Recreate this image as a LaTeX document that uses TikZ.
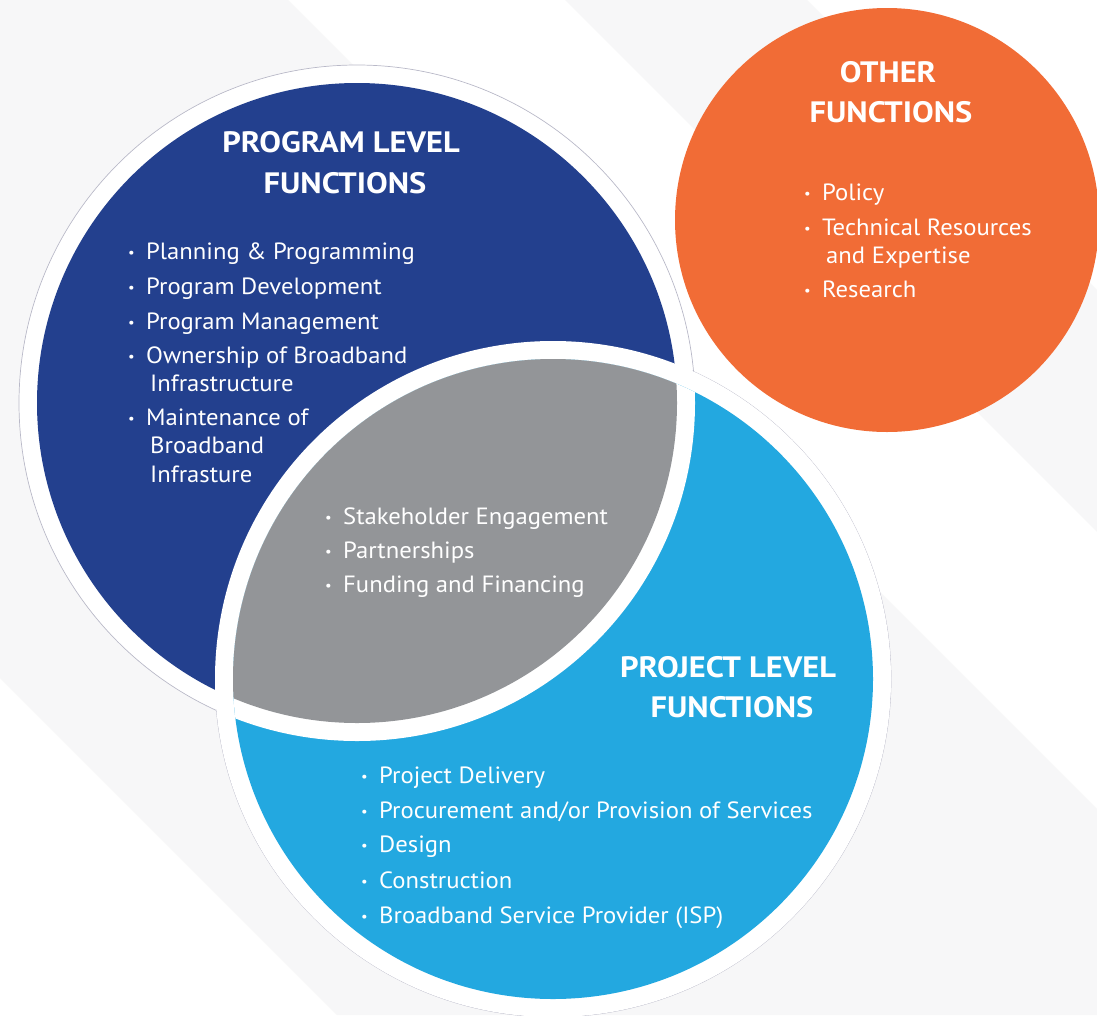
\documentclass[tikz,border=0pt]{standalone}
\usepackage{fontspec}
\setmainfont{PT Sans}[FakeStretch=1.05]
\newfontfamily\ttlfont{PT Sans}[FakeStretch=1.1]
\definecolor{bgray}{RGB}{247,247,248}
\definecolor{progblue}{RGB}{35,64,142}
\definecolor{projblue}{RGB}{35,168,224}
\definecolor{lensgray}{RGB}{147,149,152}
\definecolor{othorange}{RGB}{241,108,54}
\definecolor{rimline}{RGB}{185,185,200}
\newcommand\bul{\makebox[18pt][l]{\fontsize{14}{14}\selectfont\raisebox{1.6pt}{\textbullet}}}
\begin{document}
\begin{tikzpicture}[x=1pt,y=-1pt,
  item/.style={anchor=base west, inner sep=0pt, text=white, font=\fontsize{23.5}{23.5}\selectfont},
  ttl/.style={anchor=base, inner sep=0pt, text=white, font=\ttlfont\bfseries\fontsize{29.5}{29.5}\selectfont}]
\useasboundingbox (0,0) rectangle (1097,1015);
% background
\fill[white] (0,0) rectangle (1097,1015);
\fill[bgray] (0,0) -- (288,0) -- (1097,809) -- (1097,1015) -- (337,1015) -- (0,678) -- cycle;
\fill[bgray] (565,0) -- (807,0) -- (1097,290) -- (1097,532) -- cycle;
% centres
\coordinate (B) at (357,403);
\coordinate (P) at (553,679);
\coordinate (O) at (887,220);
% outer white rims with thin outline
\draw[rimline, line width=0.7pt, fill=white] (B) circle (338pt);
\draw[rimline, line width=0.7pt, fill=white] (P) circle (338pt);
\fill[white] (B) circle (337pt);
\fill[white] (P) circle (337pt);
% program circle
\fill[progblue] (B) circle (320pt);
\fill[white] (P) circle (338pt);
% project circle
\fill[projblue] (P) circle (320pt);
% lens
\begin{scope}
  \clip (P) circle (320pt);
  \fill[white] (B) circle (338pt);
  \fill[lensgray] (B) circle (320pt);
\end{scope}
% other functions circle
\fill[othorange] (O) circle (212pt);

% Program level
\node[ttl] (pt1) at (341,152) {PROGRAM LEVEL};
\node[ttl] (pt2) at (345,193) {FUNCTIONS};
\node[item] (pa) at (128,259) {\bul Planning \& Programming};
\node[item] (pb) at (128,294) {\bul Program Development};
\node[item] (pc) at (128,329) {\bul Program Management};
\node[item] (pd) at (128,363) {\bul Ownership of Broadband};
\node[item] (pd2) at (150,391) {Infrastructure};
\node[item] (pe) at (128,425) {\bul Maintenance of};
\node[item] (pe2) at (150,453) {Broadband};
\node[item] (pe3) at (150,482) {Infrasture};

% Other functions
\node[ttl] (ot1) at (888,82) {OTHER};
\node[ttl] (ot2) at (891,122) {FUNCTIONS};
\node[item] (oa) at (804,200) {\bul Policy};
\node[item] (ob) at (804,235) {\bul Technical Resources};
\node[item] (ob2) at (826,263) {and Expertise};
\node[item] (oc) at (804,297) {\bul Research};

% Shared
\node[item] (sa) at (325,524) {\bul Stakeholder Engagement};
\node[item] (sb) at (325,558) {\bul Partnerships};
\node[item] (sc) at (325,592) {\bul Funding and Financing};

% Project level
\node[ttl] (jt1) at (728,677) {PROJECT LEVEL};
\node[ttl] (jt2) at (732,717) {FUNCTIONS};
\node[item] (ja) at (361,783) {\bul Project Delivery};
\node[item] (jb) at (361,818) {\bul Procurement and/or Provision of Services};
\node[item] (jc) at (361,852) {\bul Design};
\node[item] (jd) at (361,888) {\bul Construction};
\node[item] (je) at (361,923) {\bul Broadband Service Provider (ISP)};
\end{tikzpicture}
\end{document}
